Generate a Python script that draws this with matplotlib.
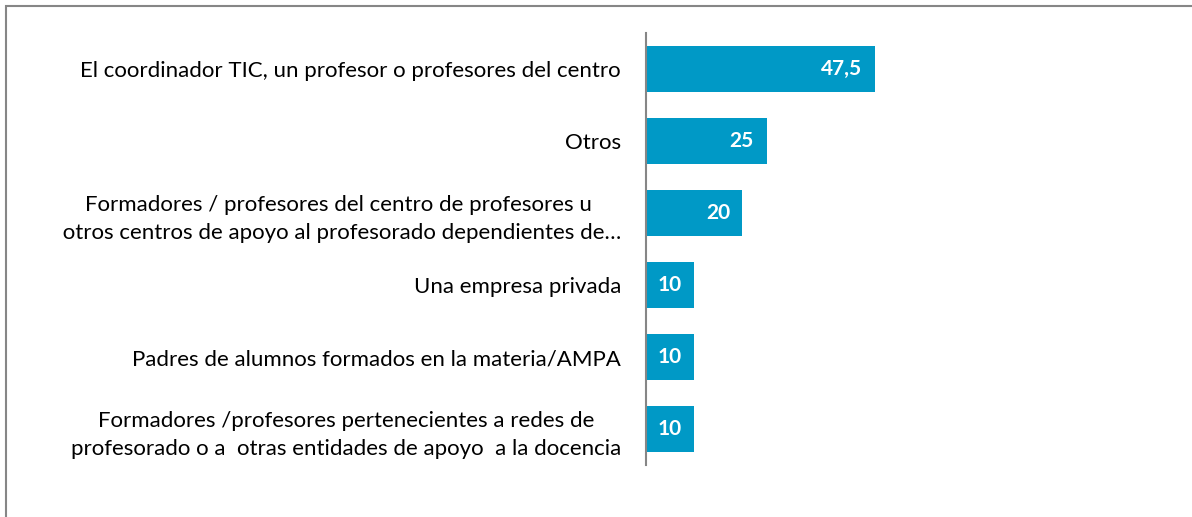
import matplotlib.pyplot as plt
import matplotlib.patches as patches

categorias = [
    "El coordinador TIC, un profesor o profesores del centro",
    "Otros",
    "Formadores / profesores del centro de profesores u\n otros centros de apoyo al profesorado dependientes de…",
    "Una empresa privada",
    "Padres de alumnos formados en la materia/AMPA",
    "Formadores /profesores pertenecientes a redes de\nprofesorado o a  otras entidades de apoyo  a la docencia",
]
valores = [47.5, 25, 20, 10, 10, 10]
etiquetas = ["47,5", "25", "20", "10", "10", "10"]

azul = '#0099c6'
gris = '#868686'

plt.rcParams['font.family'] = ['Lato', 'DejaVu Sans']

fig = plt.figure(figsize=(11.92, 5.17), dpi=100)
ax = fig.add_axes([646 / 1192, 1 - 465 / 517, 241 / 1192, 432 / 517])

# Marco gris alrededor del gráfico
fig.patches.append(patches.Rectangle((6 / 1192, -0.1), 1.2, 1 - 6 / 517 + 0.1,
                                     transform=fig.transFigure, fill=False,
                                     edgecolor=gris, linewidth=1.5))

pos = list(range(len(categorias)))
barras = ax.barh(pos, valores, height=0.64, color=azul)
ax.set_ylim(len(categorias) - 0.5, -0.5)
ax.set_xlim(0, 50)

for b, txt in zip(barras, etiquetas):
    ax.annotate(txt, (b.get_width(), b.get_y() + b.get_height() / 2),
                xytext=(-9, 0), textcoords='offset points',
                ha='right', va='center', color='white',
                fontsize=15, fontweight='bold')

ax.set_yticks(pos)
ax.set_yticklabels(categorias, fontsize=16, color='black',
                   multialignment='center', linespacing=1.5)
ax.tick_params(axis='y', length=0, pad=18)
ax.set_xticks([])

for lado in ['top', 'right', 'bottom']:
    ax.spines[lado].set_visible(False)
ax.spines['left'].set_color(gris)
ax.spines['left'].set_linewidth(1.5)

fig.savefig('out.png', dpi=100)
